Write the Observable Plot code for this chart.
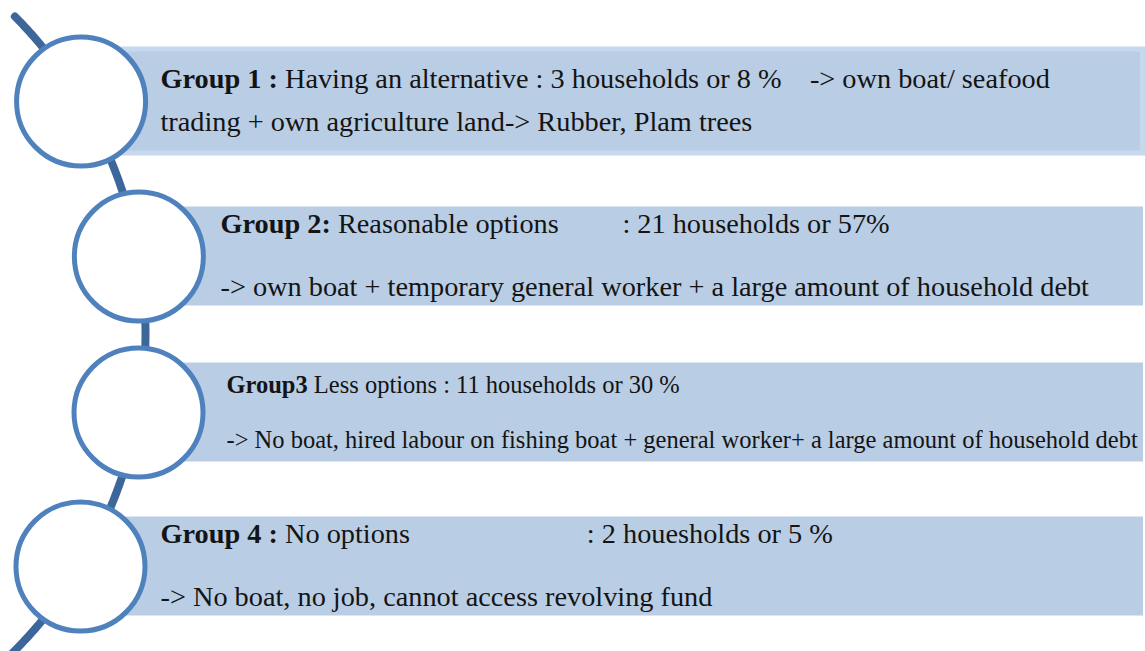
<!DOCTYPE html>
<html>
<head>
<meta charset="utf-8">
<script src="https://cdn.jsdelivr.net/npm/d3@7"></script>
<script src="https://cdn.jsdelivr.net/npm/@observablehq/plot@0.6"></script>
<style>
  html, body { margin: 0; padding: 0; background: #ffffff; }
  #chart svg text { white-space: pre; font-family: "Liberation Serif", "Times New Roman", serif; }
</style>
</head>
<body>
<div id="chart"></div>
<script>
// ---- data ----
const groupLabels = ["Group 1 : ", "Group 2:", "Group3", "Group 4 : "];
const headlines = [
  "Having an alternative : 3 households or 8 %    -> own boat/ seafood",
  " Reasonable options         : 21 households or 57%",
  " Less options : 11 households or 30 %",
  "No options                         : 2 houesholds or 5 %"
];
const details = [
  "trading + own agriculture land-> Rubber, Plam trees",
  "-> own boat + temporary general worker + a large amount of household debt",
  "-> No boat, hired labour on fishing boat + general worker+ a large amount of household debt",
  "-> No boat, no job, cannot access revolving fund"
];

// ---- layout (diagram geometry) ----
const W = 1145, H = 651;
const arcCx = -305, arcCy = 333, arcR = 450;
const rowCenters = [101, 256, 412, 566];
const circleX = rowCenters.map(y => arcCx + Math.sqrt(arcR * arcR - (y - arcCy) ** 2));
const bandHalf = 49.5;
const textX = [160, 220, 226, 160];
const line1Off = [-14, -24, -20, -24];
const line2Off = [29, 39, 35, 39];
const fontSizes = [28.3, 28.3, 24.5, 28.3];
const FONT = '"Liberation Serif", "Times New Roman", serif';

// measure bold label width so the regular text follows it
const ctx = document.createElement("canvas").getContext("2d");
const labelWidth = (txt, fs) => { ctx.font = `bold ${fs}px ${FONT}`; return ctx.measureText(txt).width; };

const rows = groupLabels.map((g, i) => ({
  i, label: g, headline: headlines[i], detail: details[i],
  cx: circleX[i], cy: rowCenters[i],
  x1: circleX[i] + 30, x2: i === 0 ? 1140 : 1143,
  y1: rowCenters[i] - bandHalf, y2: rowCenters[i] + bandHalf,
  tx: textX[i], b1: rowCenters[i] + line1Off[i], b2: rowCenters[i] + line2Off[i],
  fs: fontSizes[i], lw: labelWidth(g, fontSizes[i])
}));

const a0 = Math.asin((16 - arcCy) / arcR), a1 = Math.asin((652 - arcCy) / arcR);
const arcPts = d3.range(0, 201).map(k => {
  const a = a0 + (a1 - a0) * k / 200;
  return {x: arcCx + arcR * Math.cos(a), y: arcCy + arcR * Math.sin(a)};
});

const ink = "#141414";
const textMarks = [];
rows.forEach(r => {
  const common = {textAnchor: "start", lineAnchor: "bottom", fontSize: r.fs, fill: ink, fontFamily: FONT};
  textMarks.push(Plot.text([r], {x: "tx", y: "b1", text: "label", fontWeight: "bold", ...common}));
  textMarks.push(Plot.text([r], {x: "tx", y: "b1", text: "headline", dx: r.lw, ...common}));
  textMarks.push(Plot.text([r], {x: "tx", y: "b2", text: "detail", ...common}));
});

const chart = Plot.plot({
  width: W, height: H,
  margin: 0,
  x: {domain: [0, W], range: [0, W], axis: null},
  y: {domain: [0, H], range: [0, H], axis: null},
  style: {background: "#ffffff", overflow: "hidden"},
  marks: [
    Plot.line(arcPts, {x: "x", y: "y", stroke: "#3d679a", strokeWidth: 8, strokeLinecap: "round", curve: "linear"}),
    // highlighted outline of the first band
    Plot.rect(rows.filter(r => r.i === 0), {x1: "x1", x2: () => W, y1: d => d.y1 - 5, y2: d => d.y2 + 5, fill: "#c6d8ee"}),
    Plot.rect(rows, {x1: "x1", x2: "x2", y1: "y1", y2: "y2", fill: "#b9cde5"}),
    Plot.dot(rows, {x: "cx", y: "cy", r: 64.5, fill: "#ffffff", stroke: "#4f81bd", strokeWidth: 5}),
    ...textMarks
  ]
});

document.getElementById("chart").appendChild(chart);
</script>
</body>
</html>
